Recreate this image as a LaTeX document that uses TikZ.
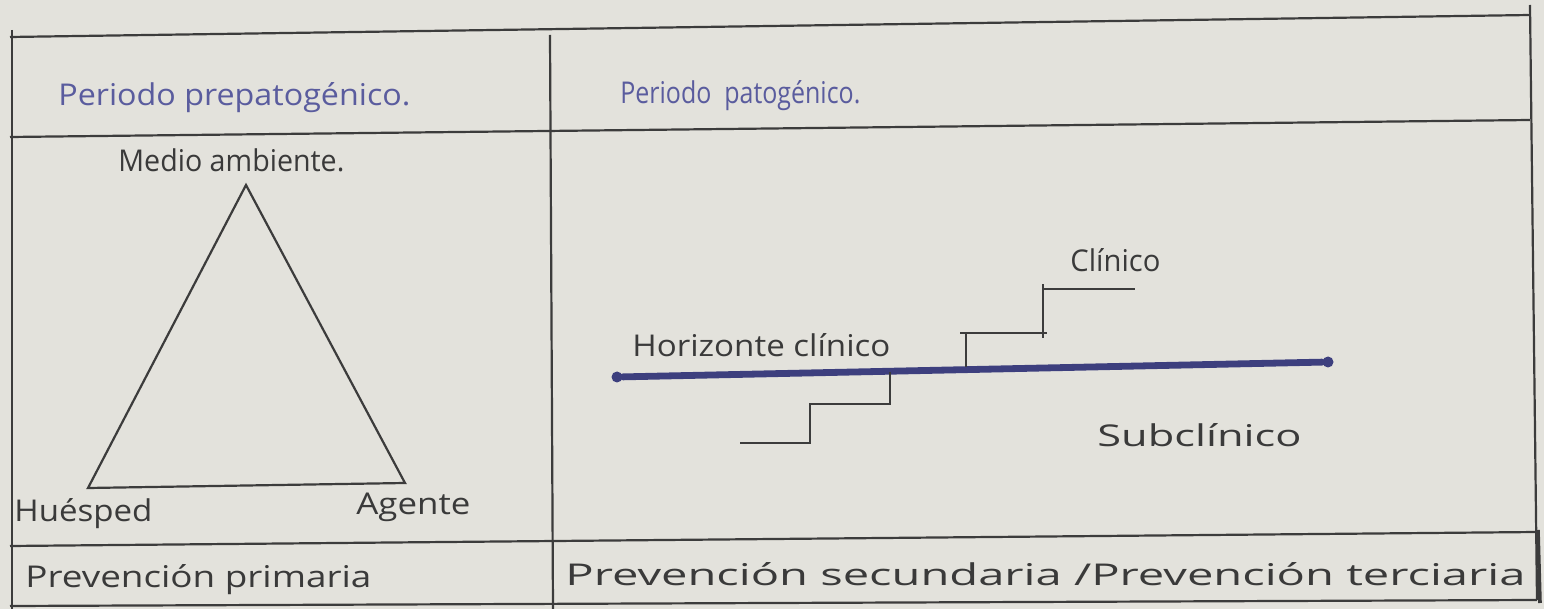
\documentclass[tikz,border=0pt]{standalone}
\usepackage{fontspec}
\setmainfont{Open Sans}
\usepackage{graphicx}
\definecolor{paper}{HTML}{E3E2DC}
\definecolor{linec}{HTML}{3C3C3C}
\definecolor{inkc}{HTML}{3A3A3A}
\definecolor{bluec}{HTML}{5A5C9E}
\definecolor{horc}{HTML}{3D3F7E}
\newcommand{\hw}[2]{\resizebox{#1}{\height}{#2}}
\tikzset{
  gridline/.style={draw=linec, line width=1.1pt},
  ink/.style={text=inkc, font=\fontsize{15}{18}\selectfont, inner sep=0pt, anchor=base west},
  blueink/.style={ink, text=bluec},
  stepline/.style={draw=linec, line width=1.1pt},
  horizon/.style={draw=horc, line width=3.4pt, line cap=round},
  hdot/.style={circle, fill=horc, inner sep=0pt, minimum size=5.5pt},
}
\begin{document}
\begin{tikzpicture}[x=0.5pt,y=-0.5pt]
\fill[paper] (0,0) rectangle (1544,609);
\useasboundingbox (0,0) rectangle (1544,609);

% table frame
\coordinate (tl) at (10,37);   \coordinate (tr) at (1530,15);
\coordinate (al) at (10,137);  \coordinate (ar) at (1530,120);
\coordinate (bl) at (10,546);  \coordinate (br) at (1537,532);
\coordinate (fl) at (10,606);  \coordinate (fr) at (1537,600);
\coordinate (lt) at (12,30);   \coordinate (lb) at (12,609);
\coordinate (ct) at (550,35);  \coordinate (cb) at (553,609);
\coordinate (rt) at (1530,5);  \coordinate (rb) at (1537,600);
\coordinate (rk1) at (1538,530); \coordinate (rk2) at (1540,603);
\draw[gridline] (tl) -- (tr);
\draw[gridline] (al) -- (ar);
\draw[gridline] (bl) -- (br);
\draw[gridline] (fl) -- (fr);
\draw[gridline] (lt) -- (lb);
\draw[gridline] (ct) -- (cb);
\draw[gridline] (rt) -- (rb);
\draw[gridline, line width=1.8pt] (rk1) -- (rk2);

% headers
\node[blueink] (h1) at (58,106) {\hw{176pt}{Periodo prepatogénico.}};
\node[blueink] (h2) at (620,104) {\hw{120pt}{Periodo\ \ patogénico.}};

% triangle
\node[ink] (medio) at (118,172) {\hw{113pt}{Medio ambiente.}};
\coordinate (apex) at (246,185);
\coordinate (tbl) at (88,488);
\coordinate (tbr) at (405,483);
\draw[stepline] (apex) -- (tbl) -- (tbr) -- cycle;
\node[ink] (huesped) at (14,522) {\hw{69pt}{Huésped}};
\node[ink] (agente) at (356,515) {\hw{57pt}{Agente}};

% footers
\node[ink] (p1) at (25,588) {\hw{173pt}{Prevención primaria}};
\node[ink] (p2) at (565,585) {\hw{480pt}{Prevención secundaria /Prevención terciaria}};

% horizon
\node[hdot] (hl) at (617,377) {};
\node[hdot] (hr) at (1328,362) {};
\draw[horizon] (hl) -- (hr);
\node[ink] (hz) at (632,357) {\hw{129pt}{Horizonte clínico}};

% upper steps
\coordinate (u0) at (966,367);
\coordinate (u1) at (966,333);
\coordinate (u1a) at (960,333);
\coordinate (u2) at (1047,333);
\coordinate (u3) at (1043,338);
\coordinate (u4) at (1043,284);
\coordinate (u5) at (1043,289);
\coordinate (u6) at (1135,289);
\draw[stepline] (u0) -- (u1);
\draw[stepline] (u1a) -- (u2);
\draw[stepline] (u3) -- (u4);
\draw[stepline] (u5) -- (u6);
\node[ink] (clin) at (1070,272) {\hw{45pt}{Clínico}};

% lower steps
\coordinate (d0) at (890,372);
\coordinate (d1) at (890,404);
\coordinate (d2) at (810,404);
\coordinate (d3) at (810,443);
\coordinate (d4) at (740,443);
\draw[stepline] (d0) -- (d1) -- (d2) -- (d3) -- (d4);
\node[ink] (sub) at (1097,447) {\hw{102pt}{Subclínico}};
\end{tikzpicture}
\end{document}
